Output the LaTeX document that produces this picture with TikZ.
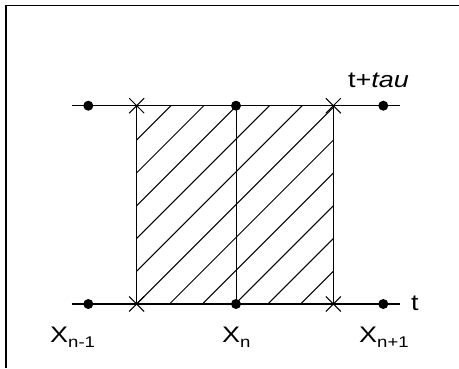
\documentclass[tikz,border=0pt]{standalone}
\usepackage{fontspec}
\setmainfont[FakeStretch=1.2]{Liberation Sans}
\usetikzlibrary{shapes.misc}
\begin{document}
\begin{tikzpicture}[x=1pt,y=-1pt,
  dotnode/.style={circle,fill=black,inner sep=0pt,minimum size=10pt},
  crossnode/.style={cross out,draw=black,line width=1pt,inner sep=0pt,minimum size=14pt},
  mainline/.style={line width=1.4pt},
  hatchline/.style={line width=1pt},
  lbl/.style={inner sep=0pt,anchor=base west,font=\fontsize{22.5}{27}\selectfont}]
\useasboundingbox (0,0) rectangle (459,368);
% frame
\draw[line width=1.5pt] (6,368) -- (6,5.5) -- (459,5.5);
% hatching
\begin{scope}
\clip (136.7,105.7) rectangle (333.3,304);
\foreach \k in {-7,...,7}{
  \draw[hatchline] ({136.7+32.8*\k},304) -- ({136.7+32.8*\k+220},84);
}
\end{scope}
% end coordinates
\coordinate (tl) at (71.7,105.7);
\coordinate (tr) at (400,105.7);
\coordinate (bl) at (71.7,304);
\coordinate (br) at (400,304);
% lines
\draw[mainline] (tl) -- (tr);
\draw[mainline] (bl) -- (br);
% points
\node[dotnode] (d1) at (88.3,105.7) {};
\node[dotnode] (d2) at (236,105.7) {};
\node[dotnode] (d3) at (383.3,105.7) {};
\node[dotnode] (e1) at (88.3,304) {};
\node[dotnode] (e2) at (236,304) {};
\node[dotnode] (e3) at (383.3,304) {};
\node[crossnode] (c1) at (136.7,105.7) {};
\node[crossnode] (c2) at (333.3,105.7) {};
\node[crossnode] (f1) at (136.7,304) {};
\node[crossnode] (f2) at (333.3,304) {};
% verticals
\draw[hatchline] (c1.center) -- (f1.center);
\draw[hatchline] (d2.center) -- (e2.center);
\draw[hatchline] (c2.center) -- (f2.center);
% labels
\node[lbl] (ltau) at (348,87.5) {t+\textit{tau}};
\node[lbl] (lt) at (411,310) {t};
\newcommand{\subtxt}[1]{{\fontsize{15.5}{18}\selectfont\raisebox{-5.5pt}{#1}}}
\node[lbl] (x1) at (50,342) {X\subtxt{n-1}};
\node[lbl] (x2) at (222,342) {X\subtxt{n}};
\node[lbl] (x3) at (359,342) {X\subtxt{n+1}};
\end{tikzpicture}
\end{document}
